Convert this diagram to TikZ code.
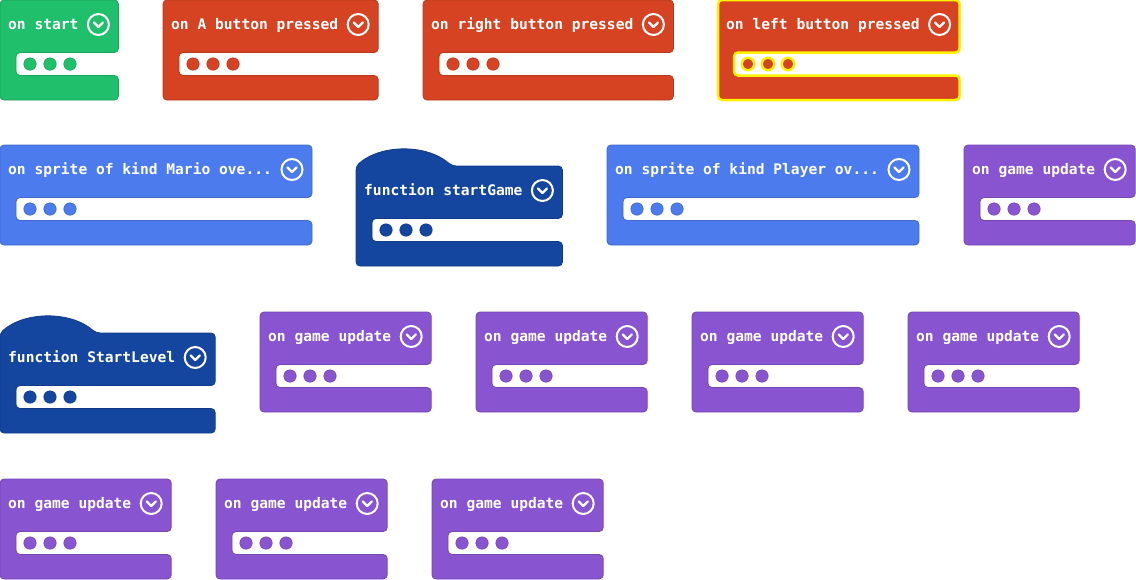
\documentclass[tikz,border=0pt]{standalone}
\usepackage{fontspec}
\setmonofont{DejaVu Sans Mono}
\definecolor{cgreen}{HTML}{20BF6B}
\definecolor{cred}{HTML}{D54322}
\definecolor{cblue}{HTML}{4B7BEC}
\definecolor{cfunc}{HTML}{1446A0}
\definecolor{cpurple}{HTML}{8854D0}
\definecolor{cyel}{HTML}{FFF200}
\tikzset{
  blk/.style={fill=#1, draw=#1!85!black, line width=0.8pt, rounded corners=4pt},
  lbl/.style={text=white, font=\fontsize{14.6}{17}\selectfont\ttfamily\bfseries, inner sep=0pt, anchor=base west},
  chevring/.style={circle, draw=white, line width=2pt, minimum size=21pt, inner sep=0pt},
  chev/.style={white, line width=2.3pt, line cap=round, line join=round},
  dotn/.style={circle, fill=#1, draw=#1!85!black, line width=0.5pt, minimum size=12.5pt, inner sep=0pt},
}
% #1 extra style, #2 name, #3 left, #4 top, #5 chars, #6 colour, #7 text, #8 hat (0/1)
\newcommand\mkblk[8][]{%
  \pgfmathsetmacro\bR{#3+48+8.8*#5}%
  \pgfmathsetmacro\bC{#3+28+8.8*#5}%
  \ifnum#8=1
    \path[blk=#6,#1] (#3,#4+20) -- (#3,#4) .. controls (#3+25,#4-22) and (#3+71,#4-22) .. (#3+96,#4) -- (\bR,#4) -- (\bR,#4+52.5) -- (#3+16,#4+52.5) -- (#3+16,#4+75.5) -- (\bR,#4+75.5) -- (\bR,#4+100) -- (#3,#4+100) -- cycle;
  \else
    \path[blk=#6,#1] (#3,#4+20) -- (#3,#4) -- (\bR,#4) -- (\bR,#4+52.5) -- (#3+16,#4+52.5) -- (#3+16,#4+75.5) -- (\bR,#4+75.5) -- (\bR,#4+100) -- (#3,#4+100) -- cycle;
  \fi
  \node[lbl] (#2) at (#3+8,#4+29.8) {#7};
  \node[chevring] (#2c) at (\bC,#4+24.5) {};
  \draw[chev] ([shift={(-4.5,-2)}]#2c.center) -- ([shift={(0,2.5)}]#2c.center) -- ([shift={(4.5,-2)}]#2c.center);
  \foreach \k in {1,2,3} \node[dotn=#6,#1] (#2d\k) at (#3+10+20*\k,#4+64) {};
}
\begin{document}
\begin{tikzpicture}[x=1pt,y=-1pt]
\fill[white] (0,0) rectangle (1136,579);
\useasboundingbox (0,0) rectangle (1136,579);
% row 1
\mkblk{start}{0}{0}{8}{cgreen}{on start}{0}
\mkblk{abtn}{163}{0}{19}{cred}{on A button pressed}{0}
\mkblk{rbtn}{423}{0}{23}{cred}{on right button pressed}{0}
\mkblk[draw=cyel, line width=2.5pt]{lbtn}{718}{0}{22}{cred}{on left button pressed}{0}
% row 2
\mkblk{mario}{0}{145}{30}{cblue}{on sprite of kind Mario ove...}{0}
\mkblk{sgame}{356}{166}{18}{cfunc}{function startGame}{1}
\mkblk{player}{607}{145}{30}{cblue}{on sprite of kind Player ov...}{0}
\mkblk{gu1}{964}{145}{14}{cpurple}{on game update}{0}
% row 3
\mkblk{slevel}{0}{333}{19}{cfunc}{function StartLevel}{1}
\mkblk{gu2}{260}{312}{14}{cpurple}{on game update}{0}
\mkblk{gu3}{476}{312}{14}{cpurple}{on game update}{0}
\mkblk{gu4}{692}{312}{14}{cpurple}{on game update}{0}
\mkblk{gu5}{908}{312}{14}{cpurple}{on game update}{0}
% row 4
\mkblk{gu6}{0}{479}{14}{cpurple}{on game update}{0}
\mkblk{gu7}{216}{479}{14}{cpurple}{on game update}{0}
\mkblk{gu8}{432}{479}{14}{cpurple}{on game update}{0}
\end{tikzpicture}
\end{document}
